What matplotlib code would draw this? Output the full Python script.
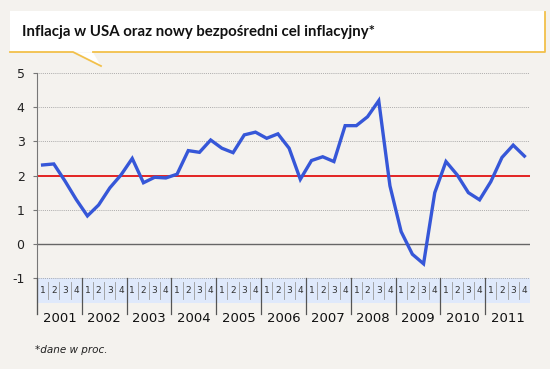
import numpy as np
import matplotlib.pyplot as plt
from matplotlib.patches import Rectangle, Polygon
from matplotlib.lines import Line2D

years = ['2001', '2002', '2003', '2004', '2005', '2006',
         '2007', '2008', '2009', '2010', '2011']
quarters = ['1', '2', '3', '4']
inflation = [2.31, 2.34, 1.84, 1.30,
             0.82, 1.14, 1.64, 2.02,
             2.50, 1.79, 1.95, 1.93,
             2.04, 2.73, 2.68, 3.04,
             2.80, 2.67, 3.19, 3.27,
             3.09, 3.22, 2.80, 1.89,
             2.44, 2.55, 2.41, 3.46,
             3.46, 3.72, 4.19, 1.70,
             0.36, -0.30, -0.58, 1.50,
             2.41, 2.02, 1.50, 1.29,
             1.82, 2.53, 2.89, 2.57]
target = 2
title = 'Inflacja w USA oraz nowy bezpośredni cel inflacyjny*'
note = '*dane w proc.'

plt.rcParams['axes.unicode_minus'] = False

bg = '#f4f2ee'
W, H = 550, 369


def fx(px):
    return px / W


def fy(py):
    return 1 - py / H


fig = plt.figure(figsize=(5.5, 3.69), dpi=100, facecolor=bg)
ax = fig.add_axes([fx(37), fy(326), 493 / W, 253 / H])
ax.set_facecolor('none')

n = len(inflation)
x = np.arange(n) + 0.5
ax.set_xlim(0, n)
ax.set_ylim(-2.4, 5)

# grid
for v in [1, 3, 4, 5, -1]:
    ax.axhline(v, color='#999999', lw=0.6, ls=(0, (1, 1.3)), zorder=1)
ax.axhline(0, color='#666666', lw=1.0, zorder=1)
ax.axhline(target, color='#e00000', lw=1.2, zorder=2)

# quarter band
ax.add_patch(Rectangle((0, -1.73), n, 0.72, facecolor='#dfe9fb',
                       edgecolor='none', zorder=0))
for i in range(n):
    ax.text(i + 0.5, -1.37, quarters[i % 4], ha='center', va='center',
            fontsize=6.5, color='#333333', family='DejaVu Sans')
    if i % 4 != 0:
        ax.plot([i, i], [-1.1, -1.62], color='#999999', lw=0.6, zorder=1)
for j, yr in enumerate(years):
    ax.plot([4 * j, 4 * j], [-1.0, -2.05], color='#555555', lw=0.9,
            zorder=3, clip_on=False)
    ax.text(4 * j + 2, -2.17, yr, ha='center', va='center', fontsize=9.5,
            color='#111111', family='DejaVu Sans')

ax.plot(x, inflation, color='#3657d8', lw=2.4, zorder=4,
        solid_joinstyle='miter')

for s in ['top', 'right', 'bottom']:
    ax.spines[s].set_visible(False)
ax.spines['left'].set_color('#777777')
ax.spines['left'].set_bounds(-2.05, 5)
ax.set_xticks([])
ax.set_yticks([-1, 0, 1, 2, 3, 4, 5])
ax.tick_params(axis='y', length=3, color='#777777', labelsize=9,
               labelcolor='#222222', pad=6)

# title box with pointer
ycol = '#f2c04a'
fig.patches.append(Rectangle((fx(10), fy(52)), 535 / W, 41 / H,
                             transform=fig.transFigure, facecolor='white',
                             edgecolor='none', zorder=1))
fig.patches.append(Polygon([(fx(73), fy(52.5)), (fx(93), fy(52.5)), (fx(101), fy(66))],
                           closed=True, transform=fig.transFigure,
                           facecolor='white', edgecolor='none', zorder=2))
fig.lines.append(Line2D([fx(10), fx(73), fx(101)], [fy(52), fy(52), fy(66)],
                        transform=fig.transFigure, color=ycol, lw=1.3, zorder=3))
fig.lines.append(Line2D([fx(93), fx(545), fx(545)], [fy(52), fy(52), fy(12)],
                        transform=fig.transFigure, color=ycol, lw=1.3, zorder=3))
fig.text(fx(22), fy(32), title, ha='left', va='center', fontsize=10.8,
         family='Lato', fontweight='bold', color='#111111', zorder=4)
fig.text(fx(35), fy(350), note, ha='left', va='center', fontsize=7.5,
         style='italic', family='DejaVu Sans', color='#222222')

fig.savefig('out.png', dpi=100, facecolor=bg)
